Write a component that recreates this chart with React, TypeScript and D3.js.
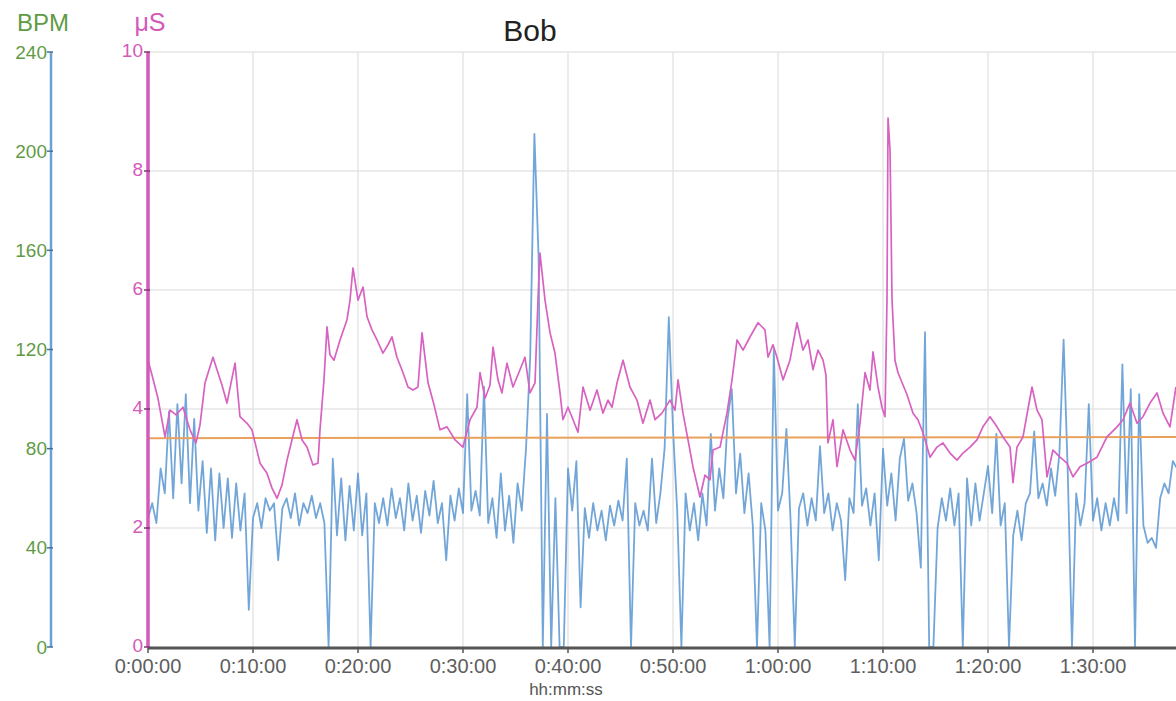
import React from 'react';
import * as d3 from 'd3';

// ---------- DATA ----------
const chartTitle = 'Bob';
const xAxisTitle = 'hh:mm:ss';
const xTickMinutes = [0, 10, 20, 30, 40, 50, 60, 70, 80, 90];
const xTickLabels = ['0:00:00', '0:10:00', '0:20:00', '0:30:00', '0:40:00', '0:50:00', '1:00:00', '1:10:00', '1:20:00', '1:30:00'];
const bpmTicks = [0, 40, 80, 120, 160, 200, 240];
const microSTicks = [0, 2, 4, 6, 8, 10];

// Heart rate (BPM), one sample every HR_STEP_MIN minutes
const HR_STEP_MIN = 0.4;
const hrBpm = [
  52, 58, 50, 72, 62, 95, 60, 98, 66, 102,
  58, 92, 55, 75, 46, 72, 43, 70, 48, 68,
  44, 66, 47, 62, 15, 52, 58, 48, 60, 55,
  58, 35, 56, 60, 52, 62, 49, 58, 54, 61,
  52, 58, 50, 0, 76, 45, 68, 43, 65, 47,
  70, 45, 62, 0, 58, 50, 60, 49, 64, 52,
  60, 47, 66, 51, 61, 46, 63, 53, 67, 50,
  58, 35, 61, 51, 64, 54, 102, 55, 63, 53,
  105, 50, 60, 44, 70, 47, 61, 42, 66, 55,
  80, 117, 207, 157, 0, 94, 0, 60, 0, 0,
  72, 55, 75, 16, 56, 44, 58, 47, 55, 43,
  57, 49, 59, 51, 76, 0, 58, 49, 55, 47,
  76, 50, 62, 80, 133, 88, 55, 0, 62, 47,
  58, 43, 62, 49, 86, 55, 72, 60, 92, 104,
  62, 78, 54, 70, 49, 0, 58, 47, 0, 120,
  55, 62, 88, 51, 0, 56, 62, 49, 60, 51,
  81, 54, 62, 47, 58, 51, 27, 60, 54, 98,
  57, 64, 49, 62, 35, 80, 57, 70, 51, 76,
  84, 59, 66, 54, 32, 127, 0, 0, 48, 60,
  51, 64, 49, 62, 0, 68, 49, 66, 51, 62,
  73, 54, 86, 49, 58, 0, 45, 55, 43, 58,
  62, 87, 60, 66, 57, 72, 61, 78, 124, 70,
  0, 62, 49, 58, 98, 51, 60, 47, 58, 49,
  60, 51, 114, 54, 104, 0, 102, 49, 42, 44,
  40, 60, 66, 62, 75, 72,
];

// Skin conductance (µS)
const edaMinutes = [
  0, 0.38, 0.95, 1.62, 2.1, 2.67, 3.33, 4.0, 4.57, 4.95,
  5.43, 6.19, 6.57, 7.05, 7.52, 8.29, 8.76, 9.43, 9.9, 10.67,
  11.33, 11.81, 12.29, 12.76, 13.24, 13.71, 14.19, 14.67, 15.14, 15.71,
  16.19, 16.38, 16.76, 17.05, 17.33, 17.71, 18.29, 18.95, 19.24, 19.52,
  20.0, 20.48, 20.86, 21.33, 21.81, 22.38, 22.86, 23.24, 23.71, 24.29,
  24.76, 25.24, 25.71, 26.1, 26.67, 27.24, 27.81, 28.48, 29.24, 30.0,
  30.67, 31.33, 31.62, 32.1, 32.57, 32.86, 33.33, 33.71, 34.19, 34.76,
  35.43, 35.9, 36.38, 36.86, 37.14, 37.33, 37.81, 38.29, 38.76, 39.24,
  39.52, 40.0, 40.48, 40.95, 41.43, 42.1, 42.76, 43.33, 43.81, 44.19,
  44.67, 45.24, 45.9, 46.57, 47.14, 47.81, 48.29, 48.95, 49.71, 50.19,
  50.48, 50.95, 51.43, 51.9, 52.57, 53.05, 53.52, 53.81, 54.48, 55.14,
  55.62, 56.1, 56.67, 57.33, 58.1, 58.76, 59.05, 59.52, 59.9, 60.48,
  61.14, 61.81, 62.38, 62.86, 63.33, 63.81, 64.29, 64.57, 64.76, 65.24,
  65.62, 66.19, 66.86, 67.33, 67.81, 68.29, 68.76, 69.05, 69.52, 69.9,
  70.19, 70.38, 70.48, 70.67, 70.86, 71.14, 71.43, 72.29, 72.86, 73.33,
  73.81, 74.48, 75.14, 75.71, 76.38, 77.05, 77.62, 78.29, 78.95, 79.52,
  80.19, 80.86, 81.43, 82.1, 82.38, 82.76, 83.33, 84.19, 84.67, 85.14,
  85.62, 86.19, 86.86, 87.52, 88.1, 88.76, 89.43, 90.38, 91.33, 92.29,
  92.86, 93.52, 94.19, 94.76, 95.43, 96.1, 96.67, 97.33, 97.9,
];
const edaMicroS = [
  4.82, 4.57, 4.18, 3.53, 3.98, 3.9, 4.03, 3.65, 3.43, 3.73,
  4.44, 4.87, 4.66, 4.4, 4.1, 4.77, 3.87, 3.76, 3.65, 3.09,
  2.92, 2.67, 2.5, 2.72, 3.14, 3.48, 3.82, 3.48, 3.36, 3.06,
  3.09, 3.65, 4.49, 5.38, 4.91, 4.82, 5.16, 5.5, 5.83, 6.37,
  5.83, 6.05, 5.55, 5.33, 5.16, 4.94, 5.08, 5.21, 4.87, 4.61,
  4.37, 4.32, 4.37, 5.28, 4.44, 4.07, 3.65, 3.7, 3.48, 3.36,
  3.82, 4.03, 4.61, 4.18, 4.4, 5.04, 4.49, 4.27, 4.77, 4.37,
  4.66, 4.87, 4.27, 4.44, 5.83, 6.62, 5.83, 5.28, 4.94, 4.27,
  3.82, 4.03, 3.82, 3.61, 4.37, 3.98, 4.32, 3.93, 4.15, 4.03,
  4.44, 4.82, 4.37, 4.15, 3.76, 4.15, 3.82, 3.93, 4.15, 3.98,
  4.49, 3.93, 3.48, 3.03, 2.52, 2.89, 2.81, 3.31, 3.36, 3.93,
  4.49, 5.16, 4.99, 5.21, 5.45, 5.33, 4.87, 5.08, 4.87, 4.49,
  4.82, 5.45, 4.99, 5.16, 4.66, 4.99, 4.82, 4.57, 3.43, 3.82,
  3.03, 3.65, 3.31, 3.14, 3.76, 4.61, 4.32, 4.96, 4.37, 4.03,
  3.87, 5.83, 8.89, 8.35, 5.83, 4.82, 4.61, 4.24, 3.93, 3.82,
  3.6, 3.19, 3.36, 3.43, 3.26, 3.14, 3.26, 3.36, 3.48, 3.7,
  3.87, 3.7, 3.53, 3.36, 2.76, 3.36, 3.53, 4.37, 3.98, 3.82,
  2.86, 3.31, 3.19, 3.09, 2.86, 3.03, 3.09, 3.19, 3.53, 3.7,
  3.82, 4.1, 3.76, 3.87, 4.1, 4.27, 3.93, 3.7, 4.37,
];

// Threshold line (µS)
const thresholdMinutes = [0, 98];
const thresholdMicroS = [3.51, 3.53];

// ---------- STYLE ----------
const FONT = "'Liberation Sans', Arial, Helvetica, sans-serif";
const GREEN = '#5f9b45';
const BLUE_AXIS = '#6c9fd6';
const MAGENTA = '#d35ab9';
const HR_COLOR = '#5b97d1';
const EDA_COLOR = '#d862c1';
const ORANGE = '#e9a15e';
const GRID = '#e6e6e6';
const AXIS_GRAY = '#555555';

export default function App() {
  const W = 1176;
  const H = 701;
  const plotLeft = 148;
  const plotRight = 1176;
  const plotTop = 52;
  const plotBottom = 647;

  const x = d3.scaleLinear().domain([0, 90]).range([plotLeft, 1093]);
  const yMu = d3.scaleLinear().domain([0, 10]).range([plotBottom, plotTop]);
  const yBpm = d3.scaleLinear().domain([0, 240]).range([plotBottom, plotTop]);

  const hrPath = d3
    .line<number>()
    .x((_, i) => x(i * HR_STEP_MIN))
    .y((d) => yBpm(d))(hrBpm) || '';

  const edaPath = d3
    .line<number>()
    .x((_, i) => x(edaMinutes[i]))
    .y((d) => yMu(d))(edaMicroS) || '';

  const thrPath = d3
    .line<number>()
    .x((_, i) => x(thresholdMinutes[i]))
    .y((d) => yMu(d))(thresholdMicroS) || '';

  const bpmAxisX = 51;

  return (
    <svg
      width={W}
      height={H}
      style={{ position: 'fixed', left: 0, top: 0, background: '#fff' }}
      fontFamily={FONT}
    >
      <defs>
        <clipPath id="plotClip">
          <rect x={plotLeft} y={plotTop - 5} width={plotRight - plotLeft} height={plotBottom - plotTop + 5} />
        </clipPath>
      </defs>
      <rect x={0} y={0} width={W} height={H} fill="#fff" />

      {/* grid */}
      {microSTicks.filter((t) => t > 0).map((t) => (
        <line key={'hg' + t} x1={plotLeft} x2={plotRight} y1={yMu(t)} y2={yMu(t)} stroke={GRID} strokeWidth={1.5} />
      ))}
      {xTickMinutes.filter((t) => t > 0).map((t) => (
        <line key={'vg' + t} x1={x(t)} x2={x(t)} y1={plotTop} y2={plotBottom} stroke={GRID} strokeWidth={1.5} />
      ))}

      {/* series */}
      <g clipPath="url(#plotClip)">
        <path d={hrPath} fill="none" stroke={HR_COLOR} strokeWidth={1.8} strokeOpacity={0.85} strokeLinejoin="round" />
        <path d={thrPath} fill="none" stroke={ORANGE} strokeWidth={2} />
        <path d={edaPath} fill="none" stroke={EDA_COLOR} strokeWidth={1.7} strokeLinejoin="round" />
      </g>

      {/* x axis */}
      <line x1={plotLeft} x2={plotRight} y1={plotBottom + 1} y2={plotBottom + 1} stroke={AXIS_GRAY} strokeWidth={3} />
      {xTickMinutes.map((t, i) => (
        <g key={'xt' + t}>
          <line x1={x(t)} x2={x(t)} y1={plotBottom} y2={plotBottom + 6} stroke={AXIS_GRAY} strokeWidth={1.5} />
          <text x={x(t)} y={673} textAnchor="middle" fontSize={20} fill="#5e5e5e">
            {xTickLabels[i]}
          </text>
        </g>
      ))}
      <text x={566} y={695} textAnchor="middle" fontSize={17} fill="#555">
        {xAxisTitle}
      </text>

      {/* BPM axis */}
      <line x1={bpmAxisX} x2={bpmAxisX} y1={plotTop} y2={plotBottom} stroke={BLUE_AXIS} strokeWidth={2.5} />
      {bpmTicks.map((t) => (
        <g key={'by' + t}>
          <line x1={bpmAxisX - 4} x2={bpmAxisX + 2} y1={yBpm(t)} y2={yBpm(t)} stroke="#4a6f99" strokeWidth={1.5} />
          <text x={bpmAxisX - 4} y={yBpm(t)} dy="0.35em" textAnchor="end" fontSize={19} fill={GREEN}>
            {t}
          </text>
        </g>
      ))}
      <text x={43} y={31} textAnchor="middle" fontSize={24} fill={GREEN}>
        BPM
      </text>

      {/* µS axis */}
      <line x1={plotLeft} x2={plotLeft} y1={plotTop} y2={plotBottom} stroke={MAGENTA} strokeWidth={3.5} />
      {microSTicks.map((t) => (
        <g key={'my' + t}>
          <line x1={plotLeft - 4} x2={plotLeft + 2} y1={yMu(t)} y2={yMu(t)} stroke="#7a3a6e" strokeWidth={1.5} />
          <text x={plotLeft - 5} y={yMu(t) - 2} dy="0.35em" textAnchor="end" fontSize={19} fill={MAGENTA}>
            {t}
          </text>
        </g>
      ))}
      <text x={150} y={31} textAnchor="middle" fontSize={25} fill={MAGENTA}>
        μS
      </text>

      {/* title */}
      <text x={530} y={41} textAnchor="middle" fontSize={30} fill="#222">
        {chartTitle}
      </text>
    </svg>
  );
}
